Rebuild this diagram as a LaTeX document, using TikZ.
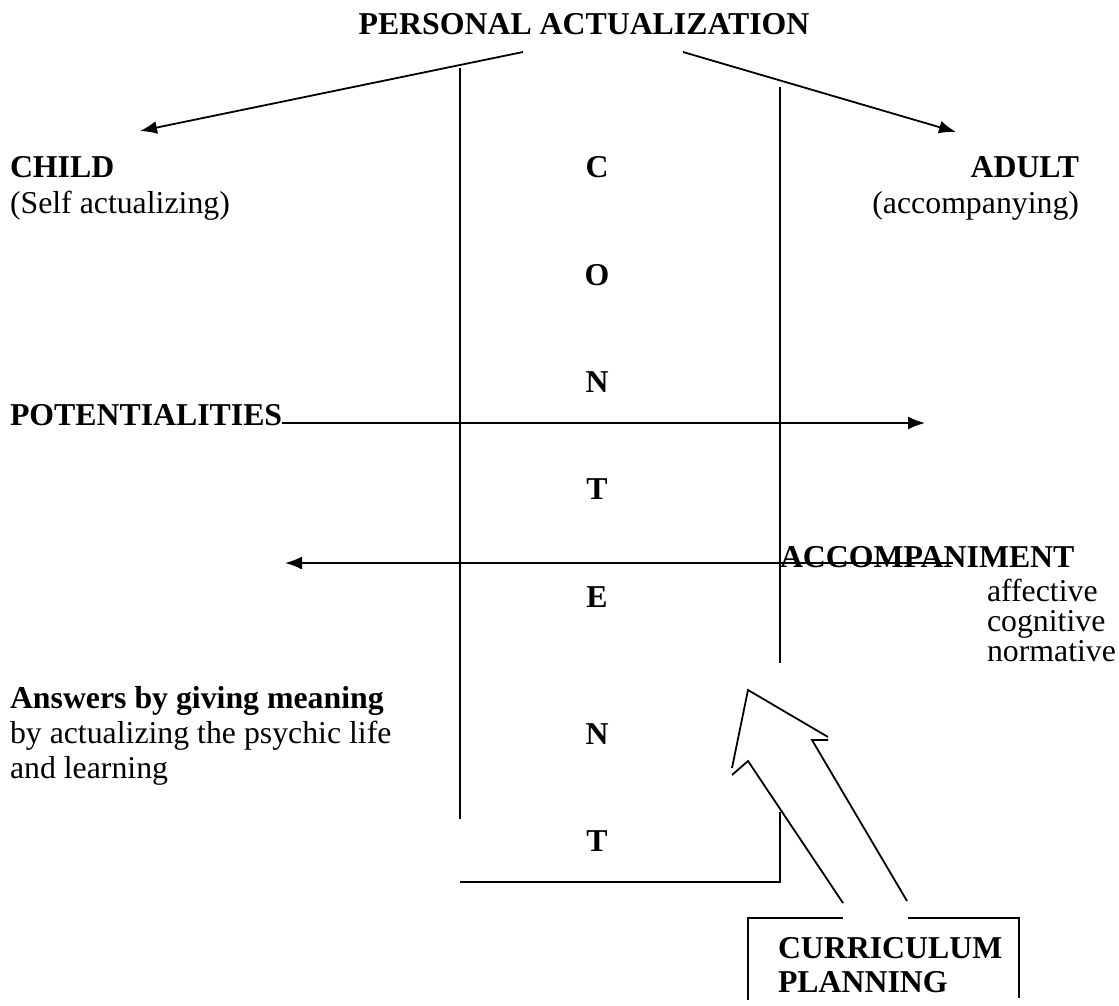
\documentclass[tikz,border=0pt]{standalone}
\usepackage{fontspec}
\setmainfont{Liberation Serif}
\usetikzlibrary{arrows.meta}
\begin{document}
\begin{tikzpicture}[x=1pt,y=-1pt,
  txt/.style={inner sep=0pt,outer sep=0pt,font=\fontsize{31.8}{35}\selectfont},
  btxt/.style={txt,font=\fontsize{31.8}{35}\selectfont\bfseries},
  ln/.style={line width=1.8pt},
  arr/.style={ln,-{Latex[length=17pt,width=13pt]}}]
\useasboundingbox (0,0) rectangle (1119,1006);
% texts
\node[btxt,anchor=base] (pa) at (584,35) {PERSONAL ACTUALIZATION};
\node[btxt,anchor=base west] (child) at (10,178) {CHILD};
\node[txt,anchor=base west] (self) at (10,213) {(Self actualizing)};
\node[btxt,anchor=base east] (adult) at (1079,178) {ADULT};
\node[txt,anchor=base east] (acc) at (1079,213) {(accompanying)};
\node[btxt,anchor=base] (c1) at (597,178) {C};
\node[btxt,anchor=base] (c2) at (597,285) {O};
\node[btxt,anchor=base] (c3) at (597,392) {N};
\node[btxt,anchor=base] (c4) at (597,499) {T};
\node[btxt,anchor=base] (c5) at (597,607) {E};
\node[btxt,anchor=base] (c6) at (597,744) {N};
\node[btxt,anchor=base] (c7) at (597,851) {T};
\node[btxt,anchor=base west] (pot) at (10,425) {POTENTIALITIES};
\node[btxt,anchor=base west] (accomp) at (780,567) {ACCOMPANIMENT};
\node[txt,anchor=base west] (aff) at (987,601) {affective};
\node[txt,anchor=base west] (cog) at (987,631) {cognitive};
\node[txt,anchor=base west] (norm) at (987,661) {normative};
\node[btxt,anchor=base west] (ans) at (10,708) {Answers by giving meaning};
\node[txt,anchor=base west] (ans2) at (10,743) {by actualizing the psychic life};
\node[txt,anchor=base west] (ans3) at (10,778) {and learning};
\node[btxt,anchor=base west] (cur) at (778,958) {CURRICULUM};
\node[btxt,anchor=base west] (plan) at (778,992) {PLANNING};
% coordinates
\coordinate (paL) at (523,52);
\coordinate (paR) at (683,52);
\coordinate (childTip) at (140,131);
\coordinate (adultTip) at (956,132);
\coordinate (potEnd) at (282,423);
\coordinate (potTip) at (925,423);
\coordinate (accStart) at (953,563);
\coordinate (accTip) at (285,563);
\coordinate (lvTop) at (460,68);
\coordinate (lvBot) at (460,819);
\coordinate (rvTop) at (780,87);
\coordinate (rvMid) at (780,663);
\coordinate (rvLow) at (780,812);
\coordinate (rvBot) at (780,882);
\coordinate (hlL) at (460,882);
% connectors
\draw[arr] (paL) -- (childTip);
\draw[arr] (paR) -- (adultTip);
\draw[arr] (potEnd) -- (potTip);
\draw[arr] (accStart) -- (accTip);
\draw[ln] (lvTop) -- (lvBot);
\draw[ln] (rvTop) -- (rvMid);
\draw[ln] (rvLow) -- (rvBot) -- (hlL);
% big arrow
\draw[ln,line join=miter] (843,903) -- (748,761) -- (732,775);
\draw[ln,line join=miter] (732,768) -- (748,690) -- (828,737);
\draw[ln,line join=miter] (828,740) -- (812,740) -- (907,901);
% curriculum box
\draw[ln] (748,1000) -- (748,918) -- (843,918);
\draw[ln] (908,918) -- (1019,918) -- (1019,998);
\end{tikzpicture}
\end{document}
